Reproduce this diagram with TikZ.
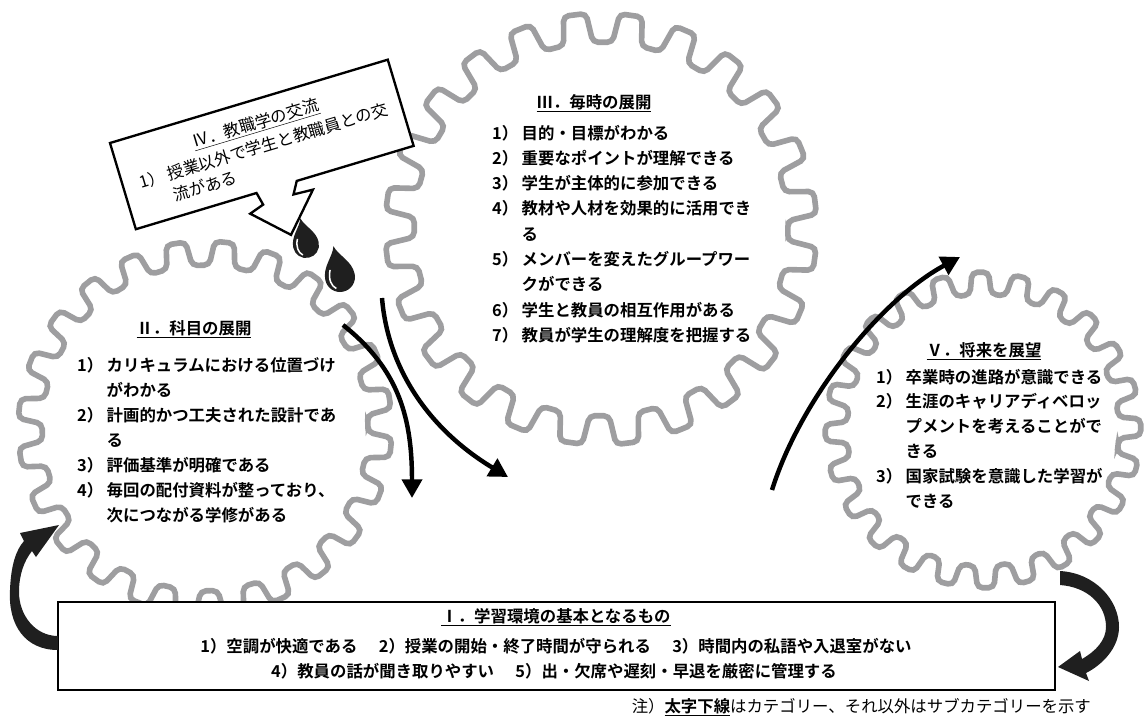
\documentclass[tikz,border=0pt]{standalone}
\usepackage{fontspec}
\setmainfont{Noto Sans CJK JP}[BoldFont={* Bold}]
\usetikzlibrary{arrows.meta}

\definecolor{geargray}{RGB}{158,158,160}

% gear outline: centre x, centre y, root radius, tip radius, phase
\newcommand{\gear}[5]{%
  \draw[gearline, shift={(#1,#2)}] ({#5-7.5}:#3)
    \foreach \a in {0,15,...,345} {
      -- ({#5+\a-4.5}:#3) -- ({#5+\a-3}:#4) -- ({#5+\a+3}:#4) -- ({#5+\a+4.5}:#3)
    } -- cycle;}

\begin{document}
\begin{tikzpicture}[x=0.03cm, y=-0.03cm,
    gearline/.style={line width=4.8pt, draw=geargray, rounded corners=4.5pt},
    flow/.style={line width=3.8pt, -{Triangle[length=16pt, width=17pt]}},
    sweep/.style={fill=black!88},
    callout/.style={draw, line width=2pt, fill=white},
    basebox/.style={draw, line width=2.2pt, fill=white, minimum width=29.91cm, minimum height=2.64cm},
    cat/.style={font=\fontsize{14}{17}\selectfont\bfseries, anchor=base},
    items/.style={font=\fontsize{14}{21.4}\selectfont\bfseries, anchor=base west}]
    \useasboundingbox (0,0) rectangle (1146,717);

    % the three gears
    \gear{205}{428}{163}{187}{6}
    \gear{601}{229}{187}{216}{8}
    \gear{983}{430}{136}{158}{14}

    % flow between the gears
    \coordinate (a1s) at (343,325);
    \coordinate (a1e) at (412,498);
    \coordinate (a2s) at (382,298);
    \coordinate (a2e) at (508,477);
    \coordinate (a3s) at (772,490);
    \coordinate (a3e) at (960,257);
    \draw[flow] (a1s) .. controls (400,370) and (412,420) .. (a1e);
    \draw[flow] (a2s) .. controls (388,370) and (430,430) .. (a2e);
    \draw[flow] (a3s) .. controls (800,400) and (880,300) .. (a3e);

    % II
    \node[cat] (g2t) at (194,334) {\underline{Ⅱ．科目の展開}};
    \node[items] (g2l) at (73,371) {\begin{tabular}[t]{@{}l@{\hspace{3pt}}l@{}}
        1）&カリキュラムにおける位置づけ\\
        &がわかる\\
        2）&計画的かつ工夫された設計であ\\
        &る\\
        3）&評価基準が明確である\\
        4）&毎回の配付資料が整っており、\\
        &次につながる学修がある
      \end{tabular}};

    % III
    \node[cat] (g3t) at (594,108) {\underline{Ⅲ．毎時の展開}};
    \node[items, font=\fontsize{14}{21.6}\selectfont\bfseries] (g3l) at (488,139) {\begin{tabular}[t]{@{}l@{\hspace{3pt}}l@{}}
        1）&目的・目標がわかる\\
        2）&重要なポイントが理解できる\\
        3）&学生が主体的に参加できる\\
        4）&教材や人材を効果的に活用でき\\
        &る\\
        5）&メンバーを変えたグループワー\\
        &クができる\\
        6）&学生と教員の相互作用がある\\
        7）&教員が学生の理解度を把握する
      \end{tabular}};

    % V
    \node[cat] (g5t) at (984,356) {\underline{Ⅴ．将来を展望}};
    \node[items, font=\fontsize{14}{21.3}\selectfont\bfseries] (g5l) at (872,383) {\begin{tabular}[t]{@{}l@{\hspace{3pt}}l@{}}
        1）&卒業時の進路が意識できる\\
        2）&生涯のキャリアディベロッ\\
        &プメントを考えることがで\\
        &きる\\
        3）&国家試験を意識した学習が\\
        &できる
      \end{tabular}};

    % IV, speech bubble
    \begin{scope}[shift={(110,143)}, rotate=16.7]
      \draw[callout] (0,0) -- (290,0) -- (290,90) -- (168,90) -- (161,102) -- (181,103)
        -- (147,140) -- (114,108) -- (129,103) -- (126,90) -- (0,90) -- cycle;
      \node[rotate=16.7, anchor=base, font=\fontsize{14}{17}\selectfont] (g4t) at (145,29) {\underline{Ⅳ．教職学の交流}};
      \node[rotate=16.7, anchor=base west, font=\fontsize{14}{18.7}\selectfont] (g4l) at (13,53) {\begin{tabular}[t]{@{}l@{\hspace{3pt}}l@{}}
          1）&授業以外で学生と教職員との交\\
          &流がある
        \end{tabular}};
    \end{scope}

    % drops
    \foreach \dx/\dy/\ds in {306/245/13, 340/277/15} {
      \begin{scope}[shift={(\dx,\dy)}, scale=\ds, rotate=12]
        \fill[black!88] (0,-2.1) .. controls (0.2,-1.4) and (1,-0.9) .. (1,0)
          arc (0:180:1) .. controls (-1,-0.9) and (-0.2,-1.4) .. (0,-2.1);
        \draw[white, line width=1.3pt] (-0.55,-0.6) .. controls (-0.8,0) and (-0.7,0.45) .. (-0.4,0.7);
      \end{scope}
    }

    % I
    \node[basebox] (kiso) at (556.5,646) {};
    \node[cat] (kisot) at (556,622) {\underline{Ⅰ．学習環境の基本となるもの}};
    \node[cat] (kiso1) at (556,652) {1）空調が快適である\hspace{1.3em}2）授業の開始・終了時間が守られる\hspace{1.3em}3）時間内の私語や入退室がない};
    \node[cat] (kiso2) at (554,677) {4）教員の話が聞き取りやすい\hspace{1.3em}5）出・欠席や遅刻・早退を厳密に管理する};

    % back to I and on to V
    \fill[sweep] (58,650) .. controls (25,650) and (8,625) .. (10,590)
      .. controls (11,565) and (16,550) .. (24,541) -- (20,533) -- (59,525) -- (36,557) -- (32,551)
      .. controls (24,561) and (19,575) .. (19,592) .. controls (19,615) and (35,636) .. (58,636) -- cycle;
    \fill[sweep] (1060,571) .. controls (1095,573) and (1119,600) .. (1119,627)
      .. controls (1119,648) and (1102,665) .. (1086,673) -- (1089,681) -- (1058,667) -- (1080,651) -- (1082,659)
      .. controls (1096,651) and (1106,640) .. (1106,627) .. controls (1106,605) and (1088,587) .. (1060,585) -- cycle;

    \node[anchor=base east, font=\fontsize{14}{17}\selectfont] (note) at (1095,712) {注）\textbf{\underline{太字下線}}はカテゴリー、それ以外はサブカテゴリーを示す};
\end{tikzpicture}
\end{document}
